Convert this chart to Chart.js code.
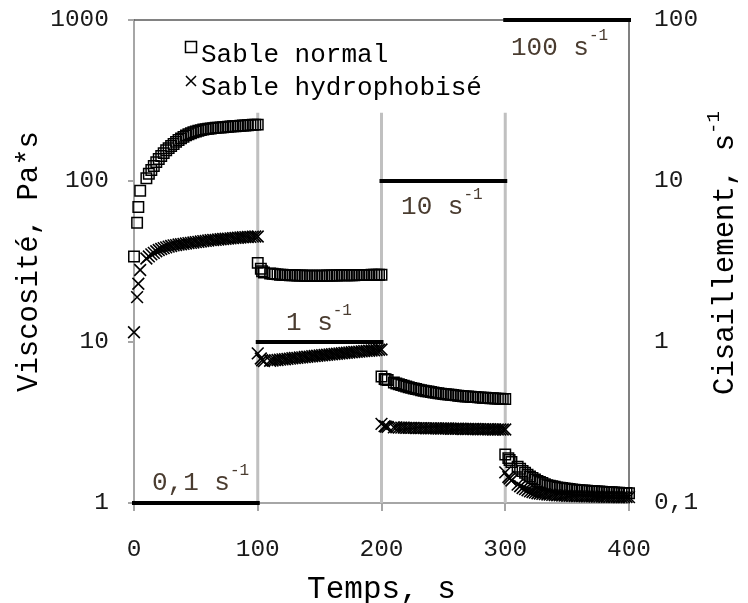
<!DOCTYPE html>
<html lang="fr">
<head>
<meta charset="utf-8">
<script src="https://cdn.jsdelivr.net/npm/chart.js@4.4.0/dist/chart.umd.min.js"></script>
<style>
  html, body { margin: 0; padding: 0; background: #fff; }
</style>
</head>
<body>
<canvas id="graphe" width="748" height="603"></canvas>
<script>
// Temps de mesure (s) : 4 paliers de 100 s, meme echantillonnage pour les deux sables
const temps = [
  0, 2.5, 3.5, 5, 10, 12, 14, 16, 18, 20, 22, 24, 26, 28, 30, 32, 34, 36, 38, 40, 42, 44, 46, 48, 50,
  52, 54, 56, 58, 60, 62, 64, 66, 68, 70, 72, 74, 76, 78, 80, 82, 84, 86, 88, 90, 92, 94, 96, 98, 100,
  100, 102.5, 103.5, 105, 110, 112, 114, 116, 118, 120, 122, 124, 126, 128, 130, 132, 134, 136, 138, 140, 142, 144, 146, 148, 150,
  152, 154, 156, 158, 160, 162, 164, 166, 168, 170, 172, 174, 176, 178, 180, 182, 184, 186, 188, 190, 192, 194, 196, 198, 200,
  200, 202.5, 203.5, 205, 210, 212, 214, 216, 218, 220, 222, 224, 226, 228, 230, 232, 234, 236, 238, 240, 242, 244, 246, 248, 250,
  252, 254, 256, 258, 260, 262, 264, 266, 268, 270, 272, 274, 276, 278, 280, 282, 284, 286, 288, 290, 292, 294, 296, 298, 300,
  300, 302.5, 303.5, 305, 310, 312, 314, 316, 318, 320, 322, 324, 326, 328, 330, 332, 334, 336, 338, 340, 342, 344, 346, 348, 350,
  352, 354, 356, 358, 360, 362, 364, 366, 368, 370, 372, 374, 376, 378, 380, 382, 384, 386, 388, 390, 392, 394, 396, 398, 400
];

// Viscosite (Pa*s) - sable normal
const viscNormal = [
  34, 55, 69, 87, 104, 111, 117, 124, 131, 137,
  143, 149, 155, 160, 165, 170, 175, 180, 184, 188,
  192, 195, 198, 201, 203, 205, 207, 209, 210, 211,
  212, 213, 214, 214.5, 215, 216, 216.5, 217, 218, 218.5,
  219, 220, 220.5, 221, 221.5, 222, 223, 223.5, 224, 224,

  31, 28.5, 27.5, 27, 26.6, 26.5, 26.4, 26.3, 26.2, 26.2,
  26.1, 26.1, 26.0, 26.0, 26.0, 25.9, 25.9, 25.9, 25.8, 25.8,
  25.8, 25.8, 25.8, 25.8, 25.8, 25.8, 25.8, 25.9, 25.9, 25.9,
  25.9, 25.9, 26.0, 26.0, 26.0, 26.0, 26.0, 26.0, 26.0, 26.1,
  26.1, 26.1, 26.1, 26.1, 26.1, 26.2, 26.2, 26.2, 26.2, 26.2,

  6.1, 5.9, 5.85, 5.8, 5.6, 5.53, 5.47, 5.41, 5.35, 5.29,
  5.24, 5.19, 5.14, 5.1, 5.06, 5.02, 4.98, 4.95, 4.92, 4.89,
  4.86, 4.83, 4.8, 4.78, 4.76, 4.74, 4.72, 4.7, 4.68, 4.66,
  4.64, 4.62, 4.61, 4.59, 4.58, 4.57, 4.56, 4.55, 4.53, 4.52,
  4.51, 4.5, 4.49, 4.48, 4.47, 4.46, 4.45, 4.44, 4.43, 4.43,

  2.0, 1.9, 1.85, 1.8, 1.68, 1.63, 1.58, 1.54, 1.5, 1.46,
  1.43, 1.4, 1.37, 1.35, 1.33, 1.31, 1.29, 1.28, 1.27, 1.26,
  1.25, 1.245, 1.24, 1.23, 1.225, 1.22, 1.215, 1.21, 1.205, 1.2,
  1.198, 1.195, 1.19, 1.188, 1.185, 1.182, 1.18, 1.178, 1.175, 1.172,
  1.17, 1.168, 1.165, 1.163, 1.16, 1.158, 1.156, 1.154, 1.152, 1.15
];

// Viscosite (Pa*s) - sable hydrophobise
const viscHydro = [
  11.5, 19, 23, 28, 33, 34, 35, 35.8, 36.6, 37.3,
  37.8, 38.3, 38.7, 39.1, 39.5, 39.8, 40, 40.3, 40.5, 40.7,
  40.9, 41.1, 41.3, 41.5, 41.7, 41.9, 42.1, 42.3, 42.5, 42.7,
  42.9, 43, 43.1, 43.3, 43.5, 43.6, 43.8, 43.9, 44, 44.2,
  44.3, 44.4, 44.6, 44.7, 44.8, 44.9, 45, 45.1, 45.2, 45.2,

  8.5, 7.9, 7.7, 7.6, 7.65, 7.67, 7.71, 7.73, 7.77, 7.8,
  7.82, 7.86, 7.88, 7.92, 7.95, 7.97, 8.01, 8.03, 8.07, 8.1,
  8.12, 8.16, 8.18, 8.22, 8.25, 8.27, 8.31, 8.33, 8.37, 8.4,
  8.42, 8.46, 8.48, 8.52, 8.55, 8.57, 8.6, 8.63, 8.66, 8.69,
  8.71, 8.75, 8.77, 8.8, 8.83, 8.85, 8.89, 8.91, 8.95, 8.98,

  3.1, 3.0, 2.98, 2.97, 2.95, 2.95, 2.94, 2.94, 2.94, 2.93,
  2.93, 2.93, 2.93, 2.92, 2.92, 2.92, 2.92, 2.91, 2.91, 2.91,
  2.91, 2.91, 2.9, 2.9, 2.9, 2.9, 2.9, 2.89, 2.89, 2.89,
  2.89, 2.89, 2.88, 2.88, 2.88, 2.88, 2.88, 2.88, 2.87, 2.87,
  2.87, 2.87, 2.87, 2.87, 2.86, 2.86, 2.86, 2.86, 2.86, 2.86,

  1.55, 1.45, 1.42, 1.38, 1.3, 1.27, 1.24, 1.22, 1.2, 1.18,
  1.17, 1.16, 1.15, 1.145, 1.14, 1.135, 1.13, 1.127, 1.124, 1.12,
  1.118, 1.116, 1.114, 1.112, 1.11, 1.108, 1.107, 1.106, 1.105, 1.104,
  1.103, 1.102, 1.101, 1.1, 1.099, 1.098, 1.097, 1.096, 1.095, 1.094,
  1.093, 1.092, 1.092, 1.091, 1.091, 1.09, 1.09, 1.089, 1.089, 1.088
];

// Paliers de cisaillement (s-1), axe de droite
const debutsPaliers = [0, 100, 200, 300];
const finsPaliers = [100, 200, 300, 400];
const niveauxCisaillement = [0.1, 1, 10, 100];
const textesPaliers = ['0,1 s', '1 s', '10 s', '100 s'];

// Traits gris de changement de palier (s) et viscosite ou ils s'arretent
const separateurs = [100, 200, 300];
const hautSeparateur = 265;

// Graduations
const graduationsTemps = [0, 100, 200, 300, 400];
const graduationsViscosite = [1, 10, 100, 1000];
const etiquettesViscosite = ['1', '10', '100', '1000'];
const graduationsCisaillement = [0.1, 1, 10, 100];
const etiquettesCisaillement = ['0,1', '1', '10', '100'];

const series = ['Sable normal', 'Sable hydrophobisé'];

const police = "'Liberation Mono', 'Courier New', monospace";

// --- donnees pour Chart.js ---
const paliers = [];
debutsPaliers.forEach((d, i) => {
  if (i > 0) paliers.push({ x: d, y: null });
  paliers.push({ x: d, y: niveauxCisaillement[i] });
  paliers.push({ x: finsPaliers[i], y: niveauxCisaillement[i] });
});

const traits = [];
separateurs.forEach((s, i) => {
  if (i > 0) traits.push({ x: s, y: null });
  traits.push({ x: s, y: graduationsViscosite[0] });
  traits.push({ x: s, y: hautSeparateur });
});

function ecrireExposant(ctx, base, exposant, x, y, taille, tailleExp, montee) {
  ctx.font = taille + 'px ' + police;
  ctx.fillText(base, x, y);
  const largeur = ctx.measureText(base).width;
  ctx.font = tailleExp + 'px ' + police;
  ctx.fillText(exposant, x + largeur, y - montee);
}

// les axes verticaux ne reservent pas de marge pour leurs etiquettes extremes
function largeurFixe(w) {
  return (s) => { s.width = w; s.paddingTop = 0; s.paddingBottom = 0; };
}

const habillage = {
  id: 'habillage',
  beforeDatasetsDraw(chart) {
    const { ctx, chartArea } = chart;
    ctx.save();
    ctx.strokeStyle = '#595959';
    ctx.lineWidth = 1.5;
    ctx.beginPath();
    ctx.moveTo(chartArea.left, chartArea.top);
    ctx.lineTo(chartArea.right, chartArea.top);
    ctx.stroke();
    ctx.restore();
  },
  afterDraw(chart) {
    const { ctx, chartArea, scales } = chart;
    ctx.save();
    ctx.textAlign = 'left';
    ctx.textBaseline = 'alphabetic';

    // legende dans la zone du graphe
    const lx = chartArea.left + 57, ly = chartArea.top + 27;
    ctx.strokeStyle = '#000';
    ctx.lineWidth = 1.5;
    ctx.strokeRect(lx - 5.5, ly - 5.5, 11, 11);
    ctx.beginPath();
    ctx.moveTo(lx - 5, ly + 29); ctx.lineTo(lx + 5, ly + 39);
    ctx.moveTo(lx + 5, ly + 29); ctx.lineTo(lx - 5, ly + 39);
    ctx.stroke();
    ctx.fillStyle = '#000';
    ctx.font = '26px ' + police;
    ctx.fillText(series[0], lx + 10, ly + 15);
    ctx.fillText(series[1], lx + 10, ly + 48);

    // textes des paliers
    const positions = [
      { t: 14.5, dy: -13 },
      { t: 122.8, dy: -12 },
      { t: 215.8, dy: 33 },
      { t: 304.6, dy: 35 }
    ];
    ctx.fillStyle = '#4a3c30';
    textesPaliers.forEach((txt, i) => {
      const x = scales.x.getPixelForValue(positions[i].t);
      const y = scales.y2.getPixelForValue(niveauxCisaillement[i]) + positions[i].dy;
      ecrireExposant(ctx, txt, '-1', x, y, 26, 16, 15);
    });

    // titre de l'axe de droite
    ctx.fillStyle = '#000';
    ctx.translate(733, 395);
    ctx.rotate(-Math.PI / 2);
    ecrireExposant(ctx, 'Cisaillement, s', '-1', 0, 0, 29, 19, 14);
    ctx.restore();
  }
};

new Chart(document.getElementById('graphe'), {
  type: 'scatter',
  data: {
    datasets: [
      {
        label: series[0],
        data: temps.map((t, i) => ({ x: t, y: viscNormal[i] })),
        pointStyle: 'rect',
        pointRadius: 7.4,
        borderWidth: 1.5,
        borderColor: '#000',
        backgroundColor: 'rgba(0,0,0,0)',
        yAxisID: 'y',
        clip: false,
        order: 2
      },
      {
        label: series[1],
        data: temps.map((t, i) => ({ x: t, y: viscHydro[i] })),
        pointStyle: 'crossRot',
        pointRadius: 8.3,
        borderWidth: 1.6,
        borderColor: '#000',
        backgroundColor: '#000',
        yAxisID: 'y',
        clip: false,
        order: 1
      },
      {
        label: 'Cisaillement',
        data: paliers,
        showLine: true,
        spanGaps: false,
        pointRadius: 0,
        borderWidth: 4,
        borderColor: '#000',
        borderCapStyle: 'square',
        yAxisID: 'y2',
        clip: false,
        order: 0
      },
      {
        label: 'Separateurs',
        data: traits,
        showLine: true,
        spanGaps: false,
        pointRadius: 0,
        borderWidth: 3,
        borderColor: '#c0c0c0',
        yAxisID: 'y',
        clip: false,
        order: 3
      }
    ]
  },
  options: {
    responsive: false,
    animation: false,
    events: [],
    layout: { padding: { top: 20 } },
    plugins: { legend: { display: false }, tooltip: { enabled: false } },
    scales: {
      x: {
        type: 'linear',
        min: 0,
        max: 400,
        afterBuildTicks: (s) => { s.ticks = graduationsTemps.map(v => ({ value: v })); },
        afterFit: (s) => { s.height = 100; },
        ticks: { color: '#1a1a1a', font: { family: police, size: 24.5 }, padding: 24, maxRotation: 0 },
        grid: { drawOnChartArea: false, color: '#a6a6a6', lineWidth: 2, tickLength: 8 },
        border: { color: '#a6a6a6', width: 2 },
        title: {
          display: true, text: 'Temps, s', color: '#000',
          font: { family: police, size: 31, lineHeight: 0.8 }, padding: { top: 0, bottom: 1 }
        }
      },
      y: {
        type: 'logarithmic',
        position: 'left',
        min: 1,
        max: 1000,
        afterBuildTicks: (s) => { s.ticks = graduationsViscosite.map(v => ({ value: v })); },
        afterFit: largeurFixe(134),
        ticks: {
          color: '#1a1a1a', font: { family: police, size: 24.5 }, padding: 19,
          callback: (v) => etiquettesViscosite[graduationsViscosite.indexOf(v)]
        },
        grid: { drawOnChartArea: false, color: '#a6a6a6', lineWidth: 2, tickLength: 6 },
        border: { color: '#a6a6a6', width: 2 },
        title: {
          display: true, text: 'Viscosité, Pa*s', color: '#000',
          font: { family: police, size: 29, lineHeight: 1.2 }, padding: { top: 12, bottom: 0 }
        }
      },
      y2: {
        type: 'logarithmic',
        position: 'right',
        min: 0.1,
        max: 100,
        afterBuildTicks: (s) => { s.ticks = graduationsCisaillement.map(v => ({ value: v })); },
        afterFit: largeurFixe(119),
        ticks: {
          color: '#1a1a1a', font: { family: police, size: 24.5 }, padding: 25,
          callback: (v) => etiquettesCisaillement[graduationsCisaillement.indexOf(v)]
        },
        grid: { display: false, drawTicks: false },
        border: { color: '#808080', width: 2 }
      }
    }
  },
  plugins: [habillage]
});
</script>
</body>
</html>
